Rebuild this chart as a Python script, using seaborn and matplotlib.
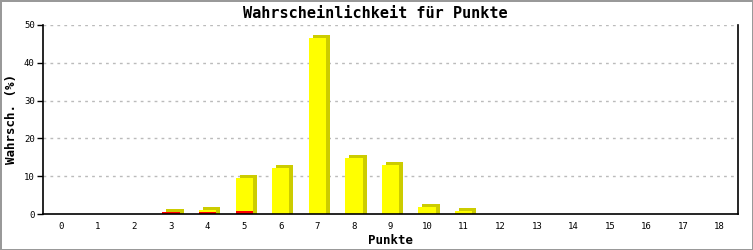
import matplotlib
matplotlib.use("Agg")
import matplotlib.pyplot as plt
import matplotlib.transforms as mtransforms
import seaborn as sns
import pandas as pd

points = list(range(19))
red_values = [0, 0, 0, 0.4, 0.5, 0.8, 0, 0, 0, 0, 0, 0, 0, 0, 0, 0, 0, 0, 0]
yellow_values = [0, 0, 0, 0.1, 0.6, 8.7, 12.2, 46.6, 14.8, 13.0, 1.85, 0.8, 0, 0, 0, 0, 0, 0, 0]
y_ticks = [0, 10, 20, 30, 40, 50]

df = pd.DataFrame({
    "Punkte": [str(p) for p in points],
    "red": red_values,
    "total": [r + y for r, y in zip(red_values, yellow_values)],
})

sns.set_style("white")
plt.rcParams["font.family"] = ["DejaVu Sans Mono"]
plt.rcParams["text.color"] = "black"
plt.rcParams["xtick.color"] = "black"
plt.rcParams["ytick.color"] = "black"
plt.rcParams["axes.labelcolor"] = "black"

fig = plt.figure(figsize=(7.53, 2.5), dpi=100)
fig.patch.set_edgecolor("#999999")
fig.patch.set_linewidth(2)
ax = fig.add_axes([43 / 753, 1 - 214 / 250, (738 - 43) / 753, (214 - 25) / 250])

w = 0.47
shadow = mtransforms.offset_copy(ax.transData, fig=fig, x=4, y=3, units="dots")
# 3D side/top (dark)
sns.barplot(data=df, x="Punkte", y="total", color="#cccc00", width=w, saturation=1,
            ax=ax, zorder=2, linewidth=0)
for p in ax.patches:
    if p.get_height() > 0:
        p.set_y(-1)
        p.set_height(p.get_height() + 1)
    p.set_transform(shadow)
sns.barplot(data=df, x="Punkte", y="total", color="#ffff00", width=w, saturation=1,
            ax=ax, zorder=3, linewidth=0)
sns.barplot(data=df, x="Punkte", y="red", color="#ff0000", width=w, saturation=1,
            ax=ax, zorder=4, linewidth=0)

ax.set_xlim(-0.5, 18.5)
ax.set_ylim(0, 50)
ax.set_yticks(y_ticks)
ax.set_yticklabels([str(t) for t in y_ticks], fontsize=6.5)
ax.tick_params(axis="x", length=0, labelsize=6.5, pad=6)
ax.tick_params(axis="y", length=4, width=1, direction="out", left=True, labelsize=6.5, pad=2)
for t in y_ticks[1:]:
    ax.axhline(t, color="#bbbbbb", lw=1, ls=(0, (2, 3)), zorder=1)
ax.spines["top"].set_visible(False)
for s in ["left", "bottom", "right"]:
    ax.spines[s].set_color("black")
    ax.spines[s].set_linewidth(1.2)
ax.spines["bottom"].set_zorder(5)

ax.set_xlabel("Punkte", fontsize=9, fontweight="bold")
ax.set_ylabel("Wahrsch. (%)", fontsize=9, fontweight="bold")
ax.xaxis.set_label_coords(0.5, (214 - 234) / 189)
ax.yaxis.set_label_coords((18 - 43) / 695, 0.5)
fig.text(375 / 753, 1 - 14 / 250, "Wahrscheinlichkeit für Punkte", ha="center", va="center",
         fontsize=11, fontweight="bold")

fig.savefig("out.png", dpi=100, edgecolor=fig.get_edgecolor())
